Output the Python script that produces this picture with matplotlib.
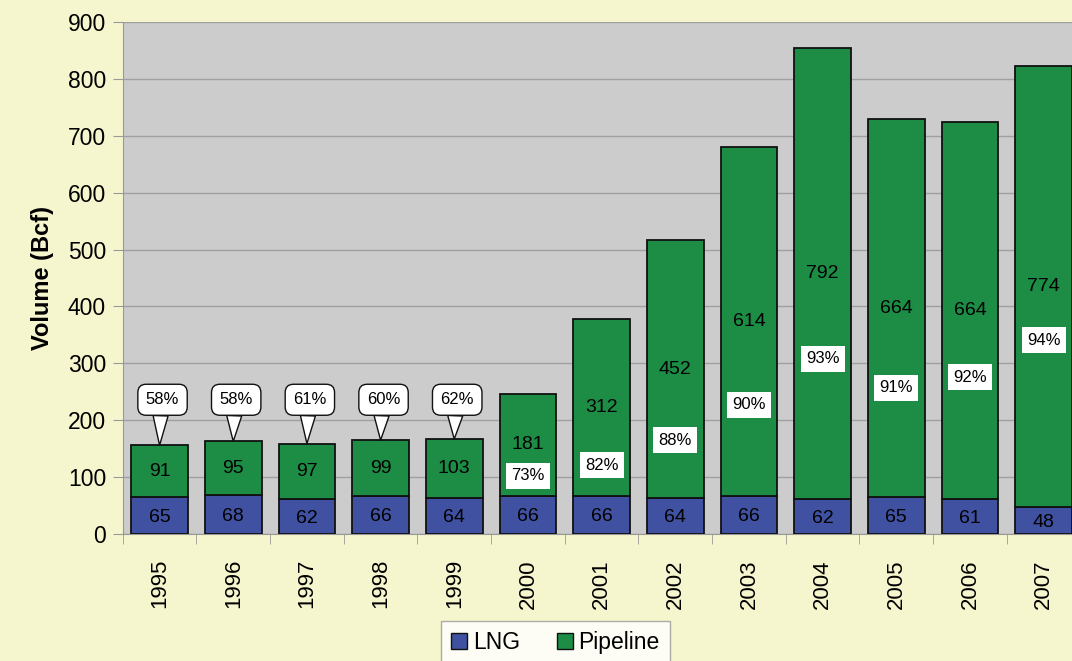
import numpy as np
import matplotlib
matplotlib.use('Agg')
import matplotlib.pyplot as plt
from matplotlib.patches import Patch

plt.rcParams['font.family'] = ['Liberation Sans', 'DejaVu Sans']

years = ['1995', '1996', '1997', '1998', '1999', '2000', '2001',
         '2002', '2003', '2004', '2005', '2006', '2007']
lng = [65, 68, 62, 66, 64, 66, 66, 64, 66, 62, 65, 61, 48]
pipeline = [91, 95, 97, 99, 103, 181, 312, 452, 614, 792, 664, 664, 774]
pipe_share = [58, 58, 61, 60, 62, 73, 82, 88, 90, 93, 91, 92, 94]

# where the share boxes sit (layout, in data units)
callout_y = 236
box_y = [None, None, None, None, None, 102, 121, 165, 227, 308, 257, 276, 341]

blue = '#3F51A0'
green = '#1D8C45'
bg = '#F6F6CE'

fig = plt.figure(figsize=(10.72, 6.61), dpi=100, facecolor=bg)
ax = fig.add_axes([0.1145, 0.1921, 0.8855, 0.7746])
ax.set_facecolor('#CCCCCC')

x = np.arange(len(years))
w = 0.77
ax.bar(x, lng, w, color=blue, edgecolor='#111111', linewidth=1.3, zorder=3)
ax.bar(x, pipeline, w, bottom=lng, color=green, edgecolor='#111111',
       linewidth=1.3, zorder=3)

for i in range(len(years)):
    ax.text(x[i], lng[i] / 2 - 3, str(lng[i]), ha='center', va='center',
            fontsize=14, zorder=5)
    ax.text(x[i], lng[i] + pipeline[i] / 2, str(pipeline[i]), ha='center',
            va='center', fontsize=14, zorder=5)
    total = lng[i] + pipeline[i]
    if box_y[i] is None:
        # speech bubble above the bar
        ax.annotate('%d%%' % pipe_share[i], xy=(x[i], total),
                    xytext=(x[i] + 0.04, callout_y), ha='center', va='center',
                    fontsize=12, zorder=6,
                    bbox=dict(boxstyle='round,pad=0.48,rounding_size=0.5',
                              fc='white', ec='#111111', lw=1),
                    arrowprops=dict(arrowstyle='wedge,tail_width=0.9,shrink_factor=0.5',
                                    fc='white', ec='#111111', lw=1,
                                    shrinkA=0, shrinkB=0,
                                    relpos=(0.45, 0.0)))
    else:
        ax.text(x[i], box_y[i], '%d%%' % pipe_share[i], ha='center',
                va='center', fontsize=12, zorder=6,
                bbox=dict(boxstyle='square,pad=0.32', fc='white', ec='none'))

ax.set_ylim(0, 900)
ax.set_xlim(-0.5, 12.385)
ax.set_yticks(np.arange(0, 901, 100))
ax.yaxis.grid(True, color='#A0A0A0', linewidth=1, zorder=0)
ax.set_axisbelow(True)

ax.set_xticks(x)
ax.set_xticklabels(years, rotation=90, fontsize=16)
ax.set_xticks(np.arange(-0.5, 12.4, 1), minor=True)
ax.tick_params(axis='x', which='major', length=0, pad=18)
ax.tick_params(axis='x', which='minor', length=7, color='#999999')
ax.tick_params(axis='y', labelsize=16.5, length=7, color='#999999', pad=5)

for s in ['top', 'right']:
    ax.spines[s].set_visible(False)
ax.spines['left'].set_color('#999999')
ax.spines['bottom'].set_color('#999999')

ax.set_ylabel('Volume (Bcf)', fontsize=17, fontweight='bold', labelpad=10)

handles = [Patch(facecolor=blue, edgecolor='#111111'),
           Patch(facecolor=green, edgecolor='#111111')]
fig.legend(handles, ['LNG', 'Pipeline'], loc='upper center',
           bbox_to_anchor=(0.518, 0.078), ncol=2, fontsize=16.5,
           frameon=True, fancybox=False, edgecolor='#999999',
           handlelength=0.7, handleheight=0.7, handletextpad=0.25,
           columnspacing=1.6, borderpad=0.45)

fig.savefig('out.png', dpi=100, facecolor=bg)
